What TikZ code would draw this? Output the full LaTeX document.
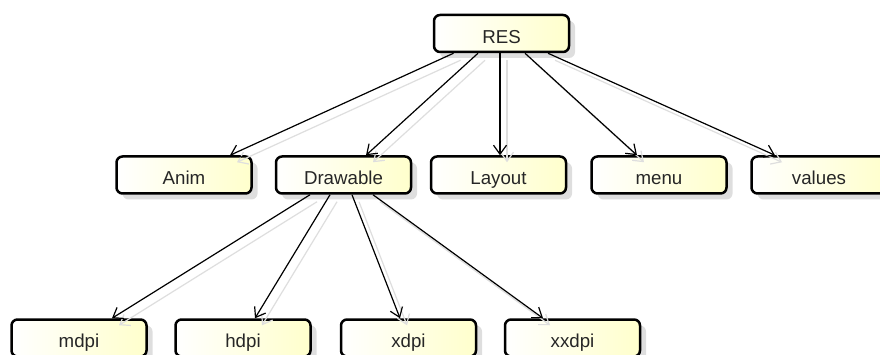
\documentclass[tikz,border=0pt]{standalone}
\usepackage{fontspec}
\setmainfont{Liberation Sans}
\usetikzlibrary{shadows,arrows.meta}

\begin{document}
\begin{tikzpicture}[x=1pt,y=-1pt]
\tikzstyle{every node}=[font=\fontsize{18.7}{21}\selectfont,text=black!85]
\tikzstyle{folder}=[draw,line width=2.5pt,rounded corners=6pt,minimum width=135pt,minimum height=37pt,
  text height=19.5pt,text depth=0pt,left color=white,right color=yellow!20,
  drop shadow={shadow xshift=6pt,shadow yshift=-6pt,fill=black,opacity=0.13}]
\tikzstyle{link}=[-{Straight Barb[length=9pt,width=13pt]},line width=1.2pt]
\tikzstyle{ghost}=[link,draw=black!13,transform canvas={shift={(7pt,-7pt)}}]
\useasboundingbox (0,0) rectangle (880,355);
\fill[white](0,0) rectangle (880,355);
% top
\node[folder](res) at (501.5,33.5){RES};
% second row
\node[folder](anim) at (184,175){Anim};
\node[folder](drawable) at (343.5,175){Drawable};
\node[folder](layout) at (498.5,175){Layout};
\node[folder](menu) at (659,175){menu};
\node[folder](values) at (819,175){values};
% third row
\node[folder](mdpi) at (79,338){mdpi};
\node[folder](hdpi) at (243,338){hdpi};
\node[folder](xdpi) at (408.5,338){xdpi};
\node[folder](xxdpi) at (572.5,338){xxdpi};
% connectors
\foreach \a/\sa/\b/\sb in {res/-48/anim/46,res/-23.5/drawable/22.5,res/-1.5/layout/1.5,
  res/23.5/menu/-22,res/46.5/values/-44,drawable/-33.5/mdpi/33,drawable/-13.5/hdpi/12,
  drawable/8.5/xdpi/-8.5,drawable/29.5/xxdpi/-29.5}{
\draw[ghost]([xshift=\sa pt]\a.south)--([xshift=\sb pt]\b.north);
\draw[link]([xshift=\sa pt]\a.south)--([xshift=\sb pt]\b.north);
}
\end{tikzpicture}
\end{document}
